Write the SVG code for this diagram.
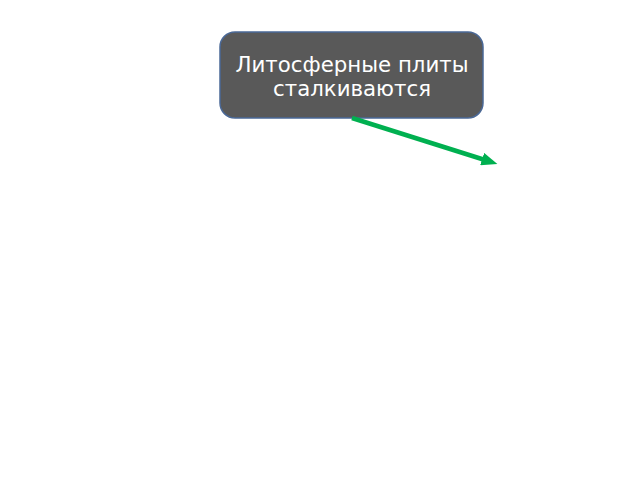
<svg xmlns="http://www.w3.org/2000/svg" width="640" height="480" viewBox="0 0 640 480">
<defs>
<style>
.node rect{fill:#595959;stroke:#4a6896;stroke-width:1.5}
.node text{fill:#ffffff;font-family:"DejaVu Sans","Noto Sans",sans-serif;font-size:21.3px;text-anchor:middle}
.conn line{stroke:#00b050;stroke-width:4.5}
</style>
<marker id="ah" viewBox="0 0 16 13" refX="3" refY="6.5" markerWidth="16" markerHeight="13" orient="auto" markerUnits="userSpaceOnUse">
<path d="M0,0 L16,6.5 L0,13 z" fill="#00b050"/>
</marker>
</defs>
<rect width="640" height="480" fill="#ffffff"/>
<g id="node1" class="node">
<rect x="220" y="32" width="263" height="86" rx="15" ry="15"/>
<text x="352" y="72">Литосферные плиты</text>
<text x="352" y="96">сталкиваются</text>
</g>
<g id="connectors" class="conn">
<line x1="352" y1="118" x2="485" y2="160" marker-end="url(#ah)"/>
</g>
</svg>
